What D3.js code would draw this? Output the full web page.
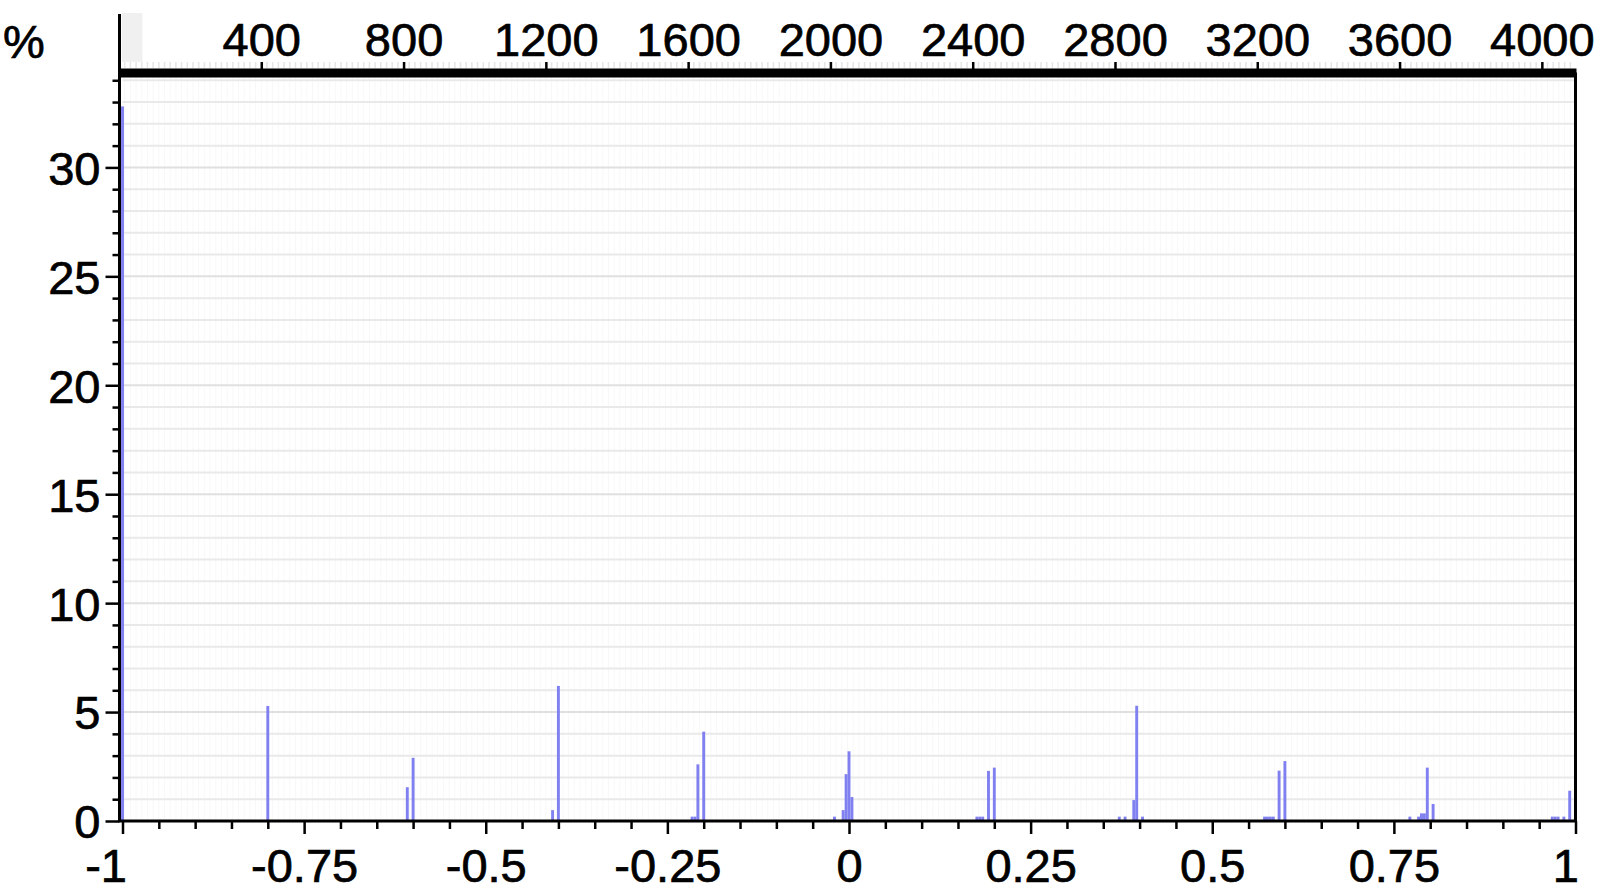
<!DOCTYPE html>
<html>
<head>
<meta charset="utf-8">
<script src="https://cdn.jsdelivr.net/npm/d3@7"></script>
<style>
  html, body { margin: 0; padding: 0; background: #ffffff; }
  svg { display: block; font-family: "Liberation Sans", Arial, Helvetica, sans-serif; }
</style>
</head>
<body>
<svg id="chart" width="1600" height="896"></svg>
<script>
// ---- data ----
const binWidth = 0.004;
const binCenters = [
  -1, -0.8, -0.608, -0.6, -0.408, -0.4,
  -0.216, -0.212, -0.208, -0.2,
  -0.02, -0.008, -0.004, 0, 0.004,
  0.176, 0.18, 0.184, 0.192, 0.2,
  0.372, 0.38, 0.392, 0.396, 0.404,
  0.572, 0.576, 0.58, 0.584, 0.592, 0.6,
  0.772, 0.784, 0.788, 0.792, 0.796, 0.804,
  0.968, 0.972, 0.976, 0.984, 0.992
];
const percents = [
  32.8, 5.28, 1.55, 2.9, 0.5, 6.2,
  0.2, 0.2, 2.6, 4.1,
  0.2, 0.5, 2.15, 3.2, 1.1,
  0.2, 0.2, 0.2, 2.3, 2.45,
  0.2, 0.2, 0.96, 5.29, 0.2,
  0.2, 0.2, 0.2, 0.2, 2.31, 2.75,
  0.2, 0.2, 0.35, 0.35, 2.45, 0.78,
  0.2, 0.2, 0.2, 0.2, 1.39
];
const xDomain = [-1, 1];
const xMajorTicks = [-1, -0.75, -0.5, -0.25, 0, 0.25, 0.5, 0.75, 1];
const xTickLabels = ["-1", "-0.75", "-0.5", "-0.25", "0", "0.25", "0.5", "0.75", "1"];
const yDomain = [0, 34.15];
const yMajorTicks = [0, 5, 10, 15, 20, 25, 30];
const countDomain = [0, 4096];
const countTicks = [400, 800, 1200, 1600, 2000, 2400, 2800, 3200, 3600, 4000];
const countBlock = [8, 66];
const yUnitLabel = "%";

// ---- layout ----
const svg = d3.select("#chart");
const x = d3.scaleLinear().domain(xDomain).range([122.5, 1575.5]);
const y = d3.scaleLinear().domain(yDomain).range([821, 77]);
const cx = d3.scaleLinear().domain(countDomain).range([119, 1576]);
const bandY = 72.5;
const textStyle = sel => sel.attr("font-size", 47).attr("fill", "#000")
  .attr("stroke", "#000").attr("stroke-width", 0.7);

// faint vertical grid in plot
const vGrid = d3.range(16, 4096, 16);
svg.append("g").selectAll("line").data(vGrid).join("line")
  .attr("x1", d => cx(d)).attr("x2", d => cx(d))
  .attr("y1", y(yDomain[1])).attr("y2", y(0))
  .attr("stroke", "#f8f8f8").attr("stroke-width", 1);

// grey block top-left
svg.append("rect")
  .attr("x", cx(countBlock[0])).attr("width", cx(countBlock[1]) - cx(countBlock[0]))
  .attr("y", 13).attr("height", 49)
  .attr("fill", "#f0f0f0");
// short grey marks above band
svg.append("g").selectAll("line").data(vGrid).join("line")
  .attr("x1", d => cx(d)).attr("x2", d => cx(d))
  .attr("y1", 62).attr("y2", 68)
  .attr("stroke", "#e6e6e6").attr("stroke-width", 1.6);

// horizontal grid lines every 1 %
const hGrid = d3.range(1, Math.floor(yDomain[1]) + 1);
svg.append("g").selectAll("line").data(hGrid).join("line")
  .attr("x1", x(-1)).attr("x2", x(1))
  .attr("y1", d => y(d)).attr("y2", d => y(d))
  .attr("stroke", d => d % 5 === 0 ? "#e0e0e0" : "#e9e9e9")
  .attr("stroke-width", 2);

// bars
svg.append("g").selectAll("rect").data(binCenters).join("rect")
  .attr("x", d => x(d - binWidth / 2))
  .attr("width", d => x(d + binWidth / 2) - x(d - binWidth / 2))
  .attr("y", (d, i) => y(percents[i]))
  .attr("height", (d, i) => y(0) - y(percents[i]))
  .attr("fill", "#8080f0");

// left axis (major)
const yAxisMajor = d3.axisLeft(y).tickValues(yMajorTicks).tickSize(14).tickPadding(5)
  .tickFormat(d3.format("d"));
const gy = svg.append("g").attr("transform", "translate(119.5,0)").call(yAxisMajor);
gy.select(".domain").remove();
gy.selectAll(".tick line").attr("stroke", "#000").attr("stroke-width", 2.5);
gy.selectAll(".tick text").call(textStyle).attr("dy", "0.36em");
// left axis minor
const yMinor = d3.range(1, Math.floor(yDomain[1]) + 1).filter(d => d % 5 !== 0);
const gym = svg.append("g").attr("transform", "translate(119.5,0)")
  .call(d3.axisLeft(y).tickValues(yMinor).tickSize(7).tickFormat(""));
gym.select(".domain").remove();
gym.selectAll(".tick line").attr("stroke", "#000").attr("stroke-width", 2.5);
// y axis line
svg.append("line").attr("x1", 119.5).attr("x2", 119.5).attr("y1", 14).attr("y2", y(0) + 1)
  .attr("stroke", "#000").attr("stroke-width", 3);

// bottom axis major
const gx = svg.append("g").attr("transform", `translate(0,${y(0)})`)
  .call(d3.axisBottom(x).tickValues(xMajorTicks).tickSize(13).tickPadding(15)
    .tickFormat((d, i) => xTickLabels[i]));
gx.select(".domain").remove();
gx.selectAll(".tick line").attr("stroke", "#000").attr("stroke-width", 2.5);
gx.selectAll(".tick text").call(textStyle)
  .attr("text-anchor", (d, i) => (i === 0 || i === xMajorTicks.length - 1) ? "end" : "middle")
  .attr("dx", (d, i) => i === 0 ? 4 : (i === xMajorTicks.length - 1 ? 3 : 0));
// bottom axis minor
const xMinor = d3.range(-19, 20).map(k => k * 0.05).filter(v => Math.abs(v / 0.25 - Math.round(v / 0.25)) > 1e-6);
const gxm = svg.append("g").attr("transform", `translate(0,${y(0)})`)
  .call(d3.axisBottom(x).tickValues(xMinor).tickSize(8).tickFormat(""));
gxm.select(".domain").remove();
gxm.selectAll(".tick line").attr("stroke", "#000").attr("stroke-width", 2.5);
// x axis line
svg.append("line").attr("x1", 118).attr("x2", x(1) + 1.5).attr("y1", y(0)).attr("y2", y(0))
  .attr("stroke", "#000").attr("stroke-width", 3);

// right frame
svg.append("line").attr("x1", x(1)).attr("x2", x(1)).attr("y1", bandY).attr("y2", y(0))
  .attr("stroke", "#000").attr("stroke-width", 3);

// top count axis with thick band
const gt = svg.append("g").attr("transform", `translate(0,${bandY})`)
  .call(d3.axisTop(cx).tickValues(countTicks).tickSize(10.5).tickSizeOuter(0).tickPadding(6)
    .tickFormat(d3.format("d")));
gt.select(".domain").attr("stroke", "#000").attr("stroke-width", 9);
gt.selectAll(".tick line").attr("stroke", "#000").attr("stroke-width", 2.5);
gt.selectAll(".tick text").call(textStyle);

// unit label
svg.append("text").attr("x", 3).attr("y", 58).call(textStyle).text(yUnitLabel);
</script>
</body>
</html>
